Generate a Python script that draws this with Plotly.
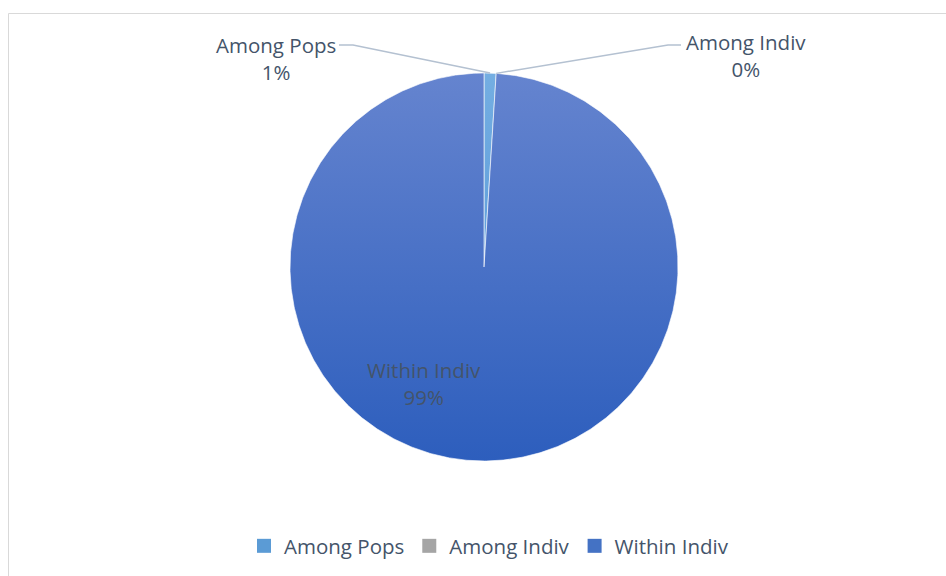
import numpy as np
import plotly.graph_objects as go

# Variance components (percent of total variation)
categories = ["Among Pops", "Among Indiv", "Within Indiv"]
percentages = [1, 0, 99]

# Slice gradient colours (top -> bottom) and legend swatch colours
top_colors = ["#74aee2", "#b4b4b4", "#6584cf"]
bottom_colors = ["#4a8dd3", "#8e8e8e", "#2d5ebd"]
legend_colors = ["#5b9bd5", "#a5a5a5", "#4472c4"]

W, H = 946, 576
CX, CY, R = 484, 267, 194          # pie centre and radius in pixels
TEXT = "#44546a"
FONT = "Open Sans"
FSIZE = 20.5


def to_data(px, py):
    """Pixel position -> data units (pie radius = 1, centre at origin)."""
    return (px - CX) / R, (CY - py) / R


fig = go.Figure()

total = float(sum(percentages))
mid_angles = []
cum = 0.0
for name, val, c_top, c_bot in zip(categories, percentages, top_colors, bottom_colors):
    frac = val / total
    a0, a1 = cum * 2 * np.pi, (cum + frac) * 2 * np.pi
    mid_angles.append((a0 + a1) / 2)
    if frac > 0:
        n = max(3, int(frac * 720) + 3)
        t = np.linspace(a0, a1, n)
        xs = np.concatenate([[0], np.sin(t), [0]])
        ys = np.concatenate([[0], np.cos(t), [0]])
        fig.add_trace(go.Scatter(
            x=xs, y=ys, mode="lines", fill="toself",
            line=dict(color="rgba(255,255,255,0.8)", width=0.75),
            fillgradient=dict(type="vertical",
                              colorscale=[[0, c_bot], [1, c_top]],
                              start=-1, stop=1),
            showlegend=False, hoverinfo="skip", name=name))
    cum += frac

# Legend swatches
for name, col in zip(categories, legend_colors):
    fig.add_trace(go.Scatter(
        x=[None], y=[None], mode="markers", name=name,
        marker=dict(symbol="square", size=14, color=col)))

# Data label placement: label centre and leader-line elbow (pixels)
label_pos = {
    "Among Pops": dict(center=(276, 58), elbow=[(339, 45), (353, 45)]),
    "Among Indiv": dict(center=(746, 55), elbow=[(681, 45), (668, 45)]),
    "Within Indiv": dict(center=(424, 383), elbow=None),
}

annotations = []
shapes = []
for name, val, ang in zip(categories, percentages, mid_angles):
    info = label_pos[name]
    lx, ly = to_data(*info["center"])
    annotations.append(dict(
        x=lx, y=ly, xref="x", yref="y", showarrow=False,
        text=f"{name}<br>{val:.0f}%", align="center",
        font=dict(family=FONT, size=FSIZE, color=TEXT)))
    if info["elbow"]:
        rim = (np.sin(ang), np.cos(ang))
        e1 = to_data(*info["elbow"][1])
        e0 = to_data(*info["elbow"][0])
        pts = [rim, e1, e0]
        path = "M " + " L ".join(f"{p[0]},{p[1]}" for p in pts)
        shapes.append(dict(type="path", path=path, xref="x", yref="y",
                           line=dict(color="#b4c1d1", width=1.5)))

# Chart area frame
shapes += [
    dict(type="line", xref="paper", yref="paper", x0=8.5 / W, x1=1.01, y0=1 - 13.5 / H, y1=1 - 13.5 / H,
         line=dict(color="#d9d9d9", width=1)),
    dict(type="line", xref="paper", yref="paper", x0=8.5 / W, x1=8.5 / W, y0=1 - 13.5 / H, y1=-0.01,
         line=dict(color="#d9d9d9", width=1)),
]

xr = [-(CX) / R, (W - CX) / R]
yr = [-(H - CY) / R, CY / R]

fig.update_layout(
    width=W, height=H,
    margin=dict(l=0, r=0, t=0, b=0),
    paper_bgcolor="white", plot_bgcolor="white",
    xaxis=dict(range=xr, visible=False, fixedrange=True),
    yaxis=dict(range=yr, visible=False, fixedrange=True),
    showlegend=True,
    legend=dict(orientation="h", x=489 / W, xanchor="center",
                y=1 - 546 / H, yanchor="middle",
                font=dict(family=FONT, size=FSIZE, color=TEXT),
                itemwidth=30,
                itemclick=False, itemdoubleclick=False),
    annotations=annotations,
    shapes=shapes,
    hovermode=False,
)

fig.write_html("out.html")
